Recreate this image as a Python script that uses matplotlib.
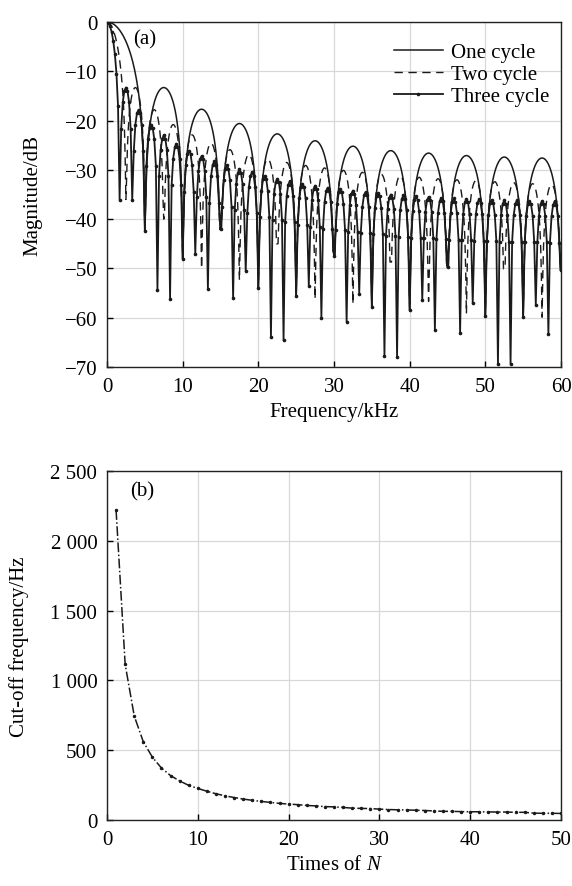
import numpy as np
import matplotlib
matplotlib.use('Agg')
import matplotlib.pyplot as plt

plt.rcParams['font.family'] = ['Liberation Serif', 'DejaVu Serif']
plt.rcParams['mathtext.fontset'] = 'custom'
plt.rcParams['mathtext.rm'] = 'Liberation Serif'
plt.rcParams['mathtext.it'] = 'Liberation Serif:italic'
FS = 15

# ---------------- data: panel (a) ----------------
# lobe widths (kHz) of the spectra
lobe_width_one = 5.0
lobe_width_two = 2.5
lobe_width_three = 5.0 / 3.0

# side-lobe peak levels (dB)
peaks_one = [-13.3, -17.7, -20.6, -22.7, -24.1, -25.2, -26.1, -26.6, -27.1, -27.4, -27.6]
peaks_two = [-13.3, -17.8, -20.8, -22.9, -24.6, -25.9, -26.9, -27.8, -28.5, -29.1, -29.6,
             -30.1, -30.5, -30.9, -31.2, -31.5, -31.8, -32.0, -32.2, -32.4, -32.6, -32.8, -33.0]
peaks_three = [-13.3, -17.8, -20.8, -23.0, -24.7, -26.1, -27.2, -28.3, -29.1, -29.9, -30.5,
               -31.2, -31.8, -32.3, -32.8, -33.2, -33.6, -33.9, -34.2, -34.5, -34.7, -35.0,
               -35.2, -35.4, -35.5, -35.7, -35.8, -35.9, -36.0, -36.1, -36.2, -36.2, -36.3,
               -36.3, -36.4]

# null depths (dB) at the end of each lobe
nulls_one = [-42.4, -48.0, -42.1, -53.9, -55.5, -47.4, -57.9, -58.5, -49.8, -59.6, -59.9, -50.4]
nulls_two = [-36.0, -42.4, -40.0, -48.0, -50.0, -42.1, -52.4, -53.9, -45.0, -55.5, -56.2, -47.4,
             -57.2, -57.9, -48.7, -58.5, -56.7, -49.8, -59.2, -59.6, -50.1, -59.9, -59.9, -50.4]
nulls_three = [-36.1, -36.1, -42.4, -54.3, -56.2, -48.0, -47.0, -54.2, -42.1, -56.0, -50.6,
               -53.9, -64.0, -64.6, -55.5, -53.5, -60.0, -47.4, -60.8, -55.2, -57.9, -67.7,
               -67.9, -58.5, -56.4, -62.5, -49.8, -63.0, -57.1, -59.6, -69.3, -69.4, -59.9,
               -57.4, -63.4, -50.4]

series_labels = ['One cycle', 'Two cycle', 'Three cycle']

# ---------------- data: panel (b) ----------------
times_N = list(range(1, 51))
cutoff_hz = [2220, 1115, 745, 560, 450, 372, 318, 280, 248, 226, 206, 188, 173, 161, 150,
             141, 133, 126, 119, 114, 110, 104, 101, 96, 94, 90, 85, 83, 82, 78,
             75, 73, 72, 70, 68, 65, 62, 62, 60, 59, 59, 58, 57, 57, 55,
             55, 49, 48, 48, 47]

ytick_labels_b = ['0', '500', '1 000', '1 500', '2 000', '2 500']


def lobe_curve(width, peaks, nulls, n_inner):
    t = np.linspace(0, 1, n_inner + 2)[1:-1]
    fs = [0.0]
    ms = [0.0]
    main = 20 * np.log10(np.sin(np.pi * t) / (np.pi * t))
    fs += list(t * width)
    ms += list(np.maximum(main, nulls[0]))
    fs.append(width)
    ms.append(nulls[0])
    for k, pk in enumerate(peaks, start=1):
        level = pk + 20 * np.log10(np.sin(np.pi * t))
        floor = np.where(t < 0.5, nulls[k - 1], nulls[k])
        fs += list(k * width + t * width)
        ms += list(np.maximum(level, floor))
        fs.append((k + 1) * width)
        ms.append(nulls[k])
    return np.array(fs), np.array(ms)


fig = plt.figure(figsize=(5.72, 8.87), dpi=100)
ax1 = fig.add_axes([107 / 572, 1 - 368 / 887, 454 / 572, 345 / 887])
ax2 = fig.add_axes([107 / 572, 1 - 821 / 887, 454 / 572, 349 / 887])

col = '#1a1a1a'
f1, m1 = lobe_curve(lobe_width_one, peaks_one, nulls_one, 40)
f2, m2 = lobe_curve(lobe_width_two, peaks_two, nulls_two, 24)
f3, m3 = lobe_curve(lobe_width_three, peaks_three, nulls_three, 7)

ax1.plot(f1, m1, color=col, lw=1.1, label=series_labels[0], zorder=3)
ax1.plot(f2, m2, color=col, lw=1.0, ls=(0, (6, 4)), label=series_labels[1], zorder=4)
ax1.plot(f3, m3, color=col, lw=1.3, marker='.', ms=3.2, label=series_labels[2], zorder=5)

ax1.set_xlim(0, 60)
ax1.set_ylim(-70, 0)
ax1.set_xticks(range(0, 61, 10))
ax1.set_yticks(range(-70, 1, 10))
ax1.set_xlabel('Frequency/kHz', fontsize=FS)
ax1.set_ylabel('Magnitude/dB', fontsize=FS)
ax1.xaxis.set_label_coords(0.5, -0.1)
ax1.yaxis.set_label_coords(-0.143, 0.5)
ax1.text(0.057, 0.95, '(a)', transform=ax1.transAxes, fontsize=FS, va='center', ha='left')
leg = ax1.legend(loc='upper right', bbox_to_anchor=(0.975, 0.94), frameon=False,
                 fontsize=FS, handlelength=2.35, handletextpad=0.4, labelspacing=0.12,
                 borderpad=0, borderaxespad=0)

ax2.plot(times_N, cutoff_hz, color=col, lw=1.1, ls='-.', marker='.', ms=3.0)
ax2.set_xlim(0, 50)
ax2.set_ylim(0, 2500)
ax2.set_xticks(range(0, 51, 10))
ax2.set_yticks(range(0, 2501, 500))
ax2.set_yticklabels(ytick_labels_b)
ax2.set_xlabel('Times of $N$', fontsize=FS)
ax2.set_ylabel('Cut-off frequency/Hz', fontsize=FS)
ax2.xaxis.set_label_coords(0.5, -0.1)
ax2.yaxis.set_label_coords(-0.172, 0.5)
ax2.text(0.05, 0.944, '(b)', transform=ax2.transAxes, fontsize=FS, va='center', ha='left')

for ax in (ax1, ax2):
    ax.grid(True, color='#d8d8d8', lw=0.9, zorder=0)
    ax.set_axisbelow(True)
    ax.tick_params(direction='in', length=4, width=1, labelsize=FS, pad=7,
                   top=False, right=False)
    for s in ax.spines.values():
        s.set_linewidth(1.0)
        s.set_color('#222222')

fig.savefig('out.png', dpi=100)
